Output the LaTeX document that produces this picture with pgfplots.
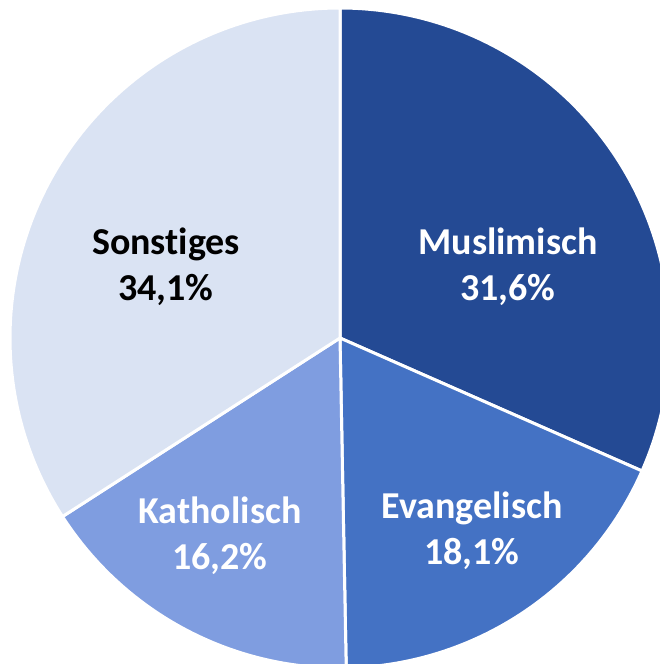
\documentclass[border=0pt]{standalone}
\usepackage{pgfplots}
\pgfplotsset{compat=1.18}
\usepackage{fontspec}
\setmainfont{Carlito}[RawFeature={-liga;-clig;-calt;-dlig}]
\definecolor{cMus}{HTML}{244A94}
\definecolor{cEva}{HTML}{4472C4}
\definecolor{cKat}{HTML}{7F9DE0}
\definecolor{cSon}{HTML}{DAE3F3}
% shares in percent (clockwise from 12 o'clock)
\def\vMus{31.6}
\def\vEva{18.1}
\def\vKat{16.2}
\def\vSon{34.1}
\begin{document}
\begin{tikzpicture}
\begin{axis}[
  scale only axis, width=660pt, height=664pt,
  xmin=-340, xmax=320, ymin=-326, ymax=338,
  hide axis, clip=true,
  every axis plot/.append style={draw=white, line width=3pt, line join=round, samples=120},
]
\pgfmathsetmacro\aA{90}
\pgfmathsetmacro\aB{\aA-3.6*\vMus}
\pgfmathsetmacro\aC{\aB-3.6*\vEva}
\pgfmathsetmacro\aD{\aC-3.6*\vKat}
\pgfmathsetmacro\aE{\aD-3.6*\vSon}
\addplot[fill=cMus, domain=\aB:\aA, variable=\t] ({330*cos(\t)},{330*sin(\t)}) -- (axis cs:0,0) -- cycle;
\addplot[fill=cEva, domain=\aC:\aB, variable=\t] ({330*cos(\t)},{330*sin(\t)}) -- (axis cs:0,0) -- cycle;
\addplot[fill=cKat, domain=\aD:\aC, variable=\t] ({330*cos(\t)},{330*sin(\t)}) -- (axis cs:0,0) -- cycle;
\addplot[fill=cSon, domain=\aE:\aD, variable=\t] ({330*cos(\t)},{330*sin(\t)}) -- (axis cs:0,0) -- cycle;
\tikzset{lab/.style={align=center, font=\fontsize{38}{46}\selectfont\bfseries, inner sep=0pt}}
\node[lab, text=white] at (axis cs:168,71) {Muslimisch\\31,6\%};
\node[lab, text=white] at (axis cs:132,-193) {Evangelisch\\18,1\%};
\node[lab, text=white] at (axis cs:-120,-198) {Katholisch\\16,2\%};
\node[lab, text=black] at (axis cs:-174,71) {Sonstiges\\34,1\%};
\end{axis}
\pgfresetboundingbox
\path[use as bounding box] (current axis.south west) rectangle (current axis.north east);
\end{tikzpicture}
\end{document}
